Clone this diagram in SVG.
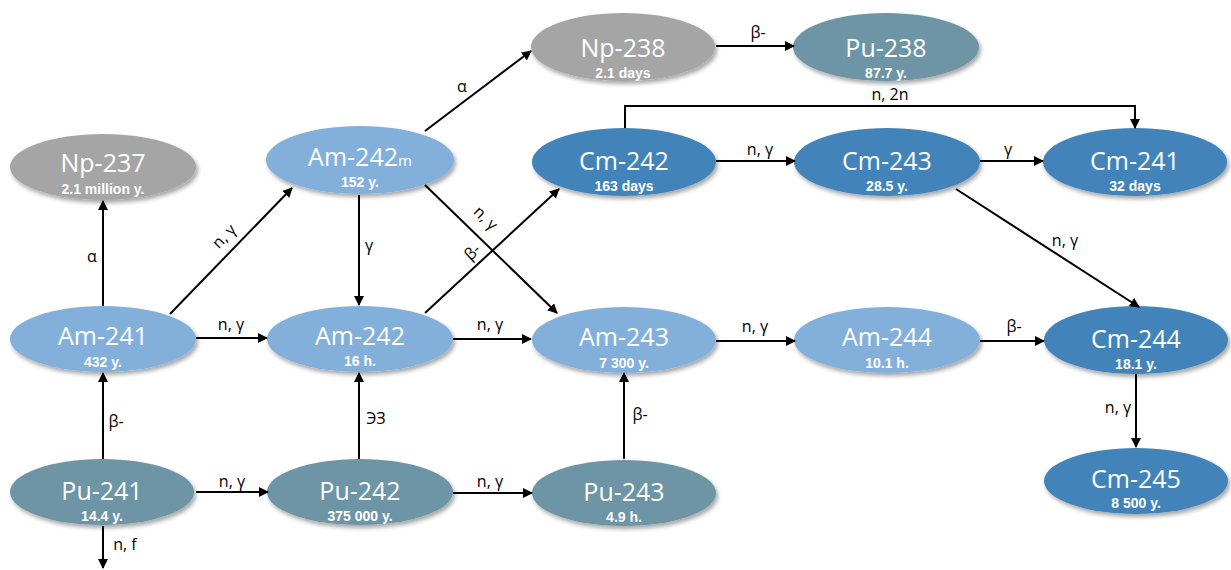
<svg xmlns="http://www.w3.org/2000/svg" width="1231" height="570" viewBox="0 0 1231 570">
  <defs>
    <filter id="shadow" x="-10%" y="-20%" width="125%" height="150%">
      <feDropShadow dx="2" dy="3" stdDeviation="2" flood-color="#000" flood-opacity="0.35"/>
    </filter>
    <marker id="arrow" viewBox="0 0 10 10" refX="9" refY="5" markerWidth="10" markerHeight="10" markerUnits="userSpaceOnUse" orient="auto">
      <path d="M0,0 L10,5 L0,10 Z" fill="#000"/>
    </marker>
  </defs>
  <style>
    .np { fill: #a5a5a5; }
    .pu { fill: #6d95a5; }
    .am { fill: #83b0db; }
    .cm { fill: #4284b9; }
    ellipse { filter: url(#shadow); }
    .name { font-family: "Open Sans", "Liberation Sans", sans-serif; font-size: 25px; fill: #fff; text-anchor: middle; }
    .sub { font-family: "Liberation Sans", Arial, sans-serif; font-size: 14px; font-weight: bold; fill: #fff; text-anchor: middle; }
    .edge { stroke: #000; stroke-width: 2; fill: none; marker-end: url(#arrow); }
    .lbl { font-family: "Open Sans", "Liberation Sans", sans-serif; font-size: 16px; fill: #000; text-anchor: middle; }
  </style>
  <rect width="1231" height="570" fill="#fff"/>

  <!-- nuclide nodes -->
  <g id="np237"><ellipse class="np" cx="103" cy="167" rx="93" ry="33"/><text class="name" x="103" y="172">Np-237</text><text class="sub" x="103" y="194">2.1 million y.</text></g>
  <g id="am242m"><ellipse class="am" cx="360" cy="160" rx="94" ry="34"/><text class="name" x="360" y="166">Am-242<tspan font-size="15">m</tspan></text><text class="sub" x="360" y="187">152 y.</text></g>
  <g id="np238"><ellipse class="np" cx="623" cy="47" rx="92" ry="34"/><text class="name" x="623" y="57">Np-238</text><text class="sub" x="623" y="78">2.1 days</text></g>
  <g id="pu238"><ellipse class="pu" cx="886" cy="47" rx="93" ry="34"/><text class="name" x="886" y="57">Pu-238</text><text class="sub" x="886" y="78">87.7 y.</text></g>
  <g id="cm242"><ellipse class="cm" cx="624" cy="162" rx="92" ry="34"/><text class="name" x="624" y="170">Cm-242</text><text class="sub" x="624" y="191">163 days</text></g>
  <g id="cm243"><ellipse class="cm" cx="887" cy="162" rx="93" ry="34"/><text class="name" x="887" y="170">Cm-243</text><text class="sub" x="887" y="191">28.5 y.</text></g>
  <g id="cm241"><ellipse class="cm" cx="1135" cy="162" rx="92" ry="34"/><text class="name" x="1135" y="170">Cm-241</text><text class="sub" x="1135" y="191">32 days</text></g>
  <g id="am241"><ellipse class="am" cx="103" cy="339" rx="93" ry="33"/><text class="name" x="103" y="345">Am-241</text><text class="sub" x="103" y="367">432 y.</text></g>
  <g id="am242"><ellipse class="am" cx="360" cy="339" rx="93" ry="33"/><text class="name" x="360" y="345">Am-242</text><text class="sub" x="360" y="366">16 h.</text></g>
  <g id="am243"><ellipse class="am" cx="624" cy="340" rx="92" ry="33"/><text class="name" x="624" y="346">Am-243</text><text class="sub" x="624" y="368">7 300 y.</text></g>
  <g id="am244"><ellipse class="am" cx="887" cy="340" rx="93" ry="33"/><text class="name" x="887" y="346">Am-244</text><text class="sub" x="887" y="368">10.1 h.</text></g>
  <g id="cm244"><ellipse class="cm" cx="1136" cy="340" rx="92" ry="34"/><text class="name" x="1136" y="348">Cm-244</text><text class="sub" x="1136" y="369">18.1 y.</text></g>
  <g id="cm245"><ellipse class="cm" cx="1136" cy="481" rx="92" ry="33"/><text class="name" x="1136" y="488">Cm-245</text><text class="sub" x="1136" y="508">8 500 y.</text></g>
  <g id="pu241"><ellipse class="pu" cx="102" cy="492" rx="92" ry="33"/><text class="name" x="102" y="500">Pu-241</text><text class="sub" x="102" y="521">14.4 y.</text></g>
  <g id="pu242"><ellipse class="pu" cx="360" cy="492" rx="93" ry="33"/><text class="name" x="360" y="500">Pu-242</text><text class="sub" x="360" y="521">375 000 y.</text></g>
  <g id="pu243"><ellipse class="pu" cx="624" cy="493" rx="92" ry="33"/><text class="name" x="624" y="501">Pu-243</text><text class="sub" x="624" y="522">4.9 h.</text></g>

  <!-- connectors, drawn over the nodes so arrowheads meet the outlines -->
  <g id="connectors">
    <line class="edge" x1="103" y1="306" x2="103" y2="201"/>
    <text class="lbl" x="92" y="262">α</text>
    <line class="edge" x1="170" y1="314" x2="292" y2="188"/>
    <text class="lbl" transform="translate(228,240) rotate(-46)">n, γ</text>
    <line class="edge" x1="196" y1="338" x2="267" y2="338"/>
    <text class="lbl" x="231" y="330">n, γ</text>
    <line class="edge" x1="103" y1="459" x2="103" y2="373"/>
    <text class="lbl" x="116" y="427">β-</text>
    <line class="edge" x1="103" y1="526" x2="103" y2="568"/>
    <text class="lbl" x="125" y="550">n, f</text>
    <line class="edge" x1="196" y1="492" x2="268" y2="492"/>
    <text class="lbl" x="232" y="487">n, γ</text>
    <line class="edge" x1="359" y1="459" x2="359" y2="373"/>
    <text class="lbl" x="376" y="424">ЭЗ</text>
    <line class="edge" x1="359" y1="195" x2="359" y2="305"/>
    <text class="lbl" x="369" y="251">γ</text>
    <line class="edge" x1="425" y1="131" x2="531" y2="51"/>
    <text class="lbl" x="462" y="92">α</text>
    <line class="edge" x1="425" y1="185" x2="557" y2="313"/>
    <text class="lbl" transform="translate(482,222) rotate(44)">n, γ</text>
    <line class="edge" x1="425" y1="313" x2="559" y2="189"/>
    <text class="lbl" transform="translate(476,256) rotate(-43)">β-</text>
    <line class="edge" x1="453" y1="339" x2="531" y2="339"/>
    <text class="lbl" x="490" y="330">n, γ</text>
    <line class="edge" x1="453" y1="493" x2="532" y2="493"/>
    <text class="lbl" x="490" y="487">n, γ</text>
    <line class="edge" x1="624" y1="459" x2="624" y2="373"/>
    <text class="lbl" x="640" y="420">β-</text>
    <line class="edge" x1="716" y1="341" x2="795" y2="341"/>
    <text class="lbl" x="755" y="332">n, γ</text>
    <line class="edge" x1="980" y1="341" x2="1044" y2="341"/>
    <text class="lbl" x="1014" y="332">β-</text>
    <line class="edge" x1="716" y1="46" x2="794" y2="46"/>
    <text class="lbl" x="758" y="38">β-</text>
    <line class="edge" x1="716" y1="161" x2="795" y2="161"/>
    <text class="lbl" x="760" y="155">n, γ</text>
    <line class="edge" x1="980" y1="161" x2="1043" y2="161"/>
    <text class="lbl" x="1008" y="155">γ</text>
    <polyline class="edge" points="625,128 625,106 1135,106 1135,128"/>
    <text class="lbl" x="890" y="100">n, 2n</text>
    <line class="edge" x1="956" y1="189" x2="1139" y2="307"/>
    <text class="lbl" x="1065" y="246">n, γ</text>
    <line class="edge" x1="1136" y1="374" x2="1136" y2="447"/>
    <text class="lbl" x="1118" y="413">n, γ</text>
  </g>
</svg>
